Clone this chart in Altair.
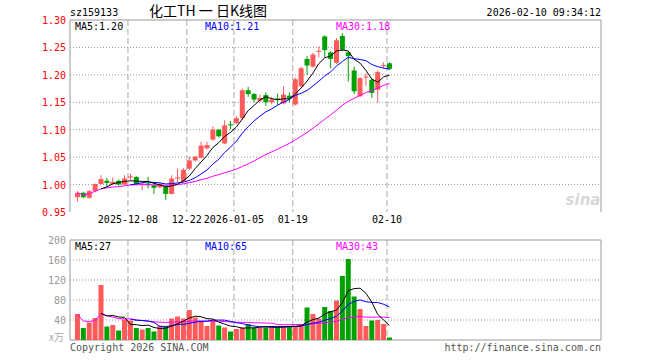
import altair as alt
import pandas as pd

# ---- data (index 0 = 2025-11-25 ... 53 = 2026-02-10)
opens  = [0.977, 0.985, 0.976, 0.988, 1.001, 1.007, 1.001, 1.007, 1.000, 1.013,
          1.014, 1.000, 1.002, 0.999, 0.995, 0.996, 0.983, 1.011, 1.006, 1.029,
          1.044, 1.049, 1.066, 1.082, 1.100, 1.075, 1.110, 1.112, 1.121, 1.172,
          1.165, 1.153, 1.163, 1.150, 1.157, 1.148, 1.162, 1.146, 1.179, 1.229,
          1.215, 1.242, 1.270, 1.241, 1.222, 1.271, 1.241, 1.208, 1.161, 1.195,
          1.191, 1.173, 1.216, 1.221]
closes = [0.985, 0.977, 0.988, 1.001, 1.010, 1.003, 1.005, 1.000, 1.011, 1.015,
          1.001, 1.002, 0.999, 0.994, 1.001, 0.983, 1.011, 1.013, 1.027, 1.044,
          1.051, 1.071, 1.072, 1.100, 1.088, 1.108, 1.108, 1.121, 1.172, 1.165,
          1.155, 1.158, 1.150, 1.155, 1.155, 1.164, 1.158, 1.192, 1.212, 1.217,
          1.237, 1.244, 1.245, 1.229, 1.263, 1.246, 1.234, 1.170, 1.194, 1.197,
          1.167, 1.205, 1.218, 1.211]
highs  = [0.988, 0.987, 0.990, 1.002, 1.017, 1.012, 1.013, 1.009, 1.017, 1.020,
          1.015, 1.003, 1.014, 1.000, 1.004, 0.997, 1.017, 1.029, 1.030, 1.051,
          1.052, 1.078, 1.078, 1.106, 1.101, 1.117, 1.116, 1.125, 1.175, 1.178,
          1.167, 1.164, 1.168, 1.160, 1.166, 1.179, 1.168, 1.195, 1.215, 1.234,
          1.240, 1.252, 1.272, 1.243, 1.267, 1.276, 1.242, 1.215, 1.196, 1.203,
          1.193, 1.208, 1.223, 1.223]
lows   = [0.969, 0.975, 0.974, 0.986, 1.000, 0.996, 0.999, 0.998, 0.998, 1.008,
          0.999, 0.990, 0.993, 0.983, 0.993, 0.972, 0.982, 1.005, 1.004, 1.027,
          1.042, 1.048, 1.064, 1.080, 1.086, 1.074, 1.101, 1.110, 1.118, 1.160,
          1.150, 1.150, 1.144, 1.146, 1.145, 1.146, 1.150, 1.144, 1.177, 1.200,
          1.213, 1.232, 1.232, 1.212, 1.220, 1.243, 1.188, 1.165, 1.160, 1.180,
          1.158, 1.150, 1.212, 1.209]
vols   = [52, 24, 35, 44, 110, 27, 30, 19, 41, 39,
          24, 21, 24, 17, 29, 27, 43, 47, 43, 60,
          45, 37, 28, 40, 29, 25, 17, 22, 25, 32,
          25, 25, 25, 28, 28, 28, 27, 27, 32, 65,
          52, 43, 66, 58, 79, 128, 162, 87, 62, 28,
          39, 40, 32, 5]

date_idx    = [9, 19, 27, 37, 53]
date_labels = ["2025-12-08", "12-22", "2026-01-05", "01-19", "02-10"]
price_ticks = [1.30, 1.25, 1.20, 1.15, 1.10, 1.05, 1.00, 0.95]
price_grid  = [1.25, 1.20, 1.15, 1.10, 1.05, 1.00]
vol_ticks   = [200, 160, 120, 80, 40]
vol_grid    = [160, 120, 80, 40]
price_legend = ["MA5:1.20", "MA10:1.21", "MA30:1.18"]
vol_legend   = ["MA5:27", "MA10:65", "MA30:43"]

RED, GREEN = "#ff5a5a", "#00a000"
MA_COLORS = ["#000000", "#0000ff", "#ff00ff"]
FONT = "DejaVu Sans Mono"
FS = 10
W, H = 531, 320
PH = 192           # price panel height
VT, VB = 220, 320  # volume panel top / bottom

df = pd.DataFrame({"i": list(range(len(opens))), "open": opens, "close": closes,
                   "high": highs, "low": lows, "vol": vols})
one = pd.DataFrame({"a": [0]})
dates = pd.DataFrame({"i": date_idx, "lab": date_labels})

x0 = -2.5 / 6
xs = alt.Scale(domain=[x0, x0 + W / 6], nice=False, zero=False)
py = alt.Scale(domain=[0.95, 1.30], range=[PH, 0], nice=False, zero=False)
vy = alt.Scale(domain=[0, 200], range=[VB, VT], nice=False, zero=False)

X = alt.X("i:Q", scale=xs, axis=None)
updown = alt.condition("datum.close >= datum.open", alt.value(RED), alt.value(GREEN))

layers = []

# grids
layers.append(alt.Chart(pd.DataFrame({"v": price_grid})).mark_rule(
    color="#999999", strokeDash=[1, 2], strokeWidth=1).encode(
    y=alt.Y("v:Q", scale=py, axis=None), x=alt.value(0), x2=alt.value(W)))
layers.append(alt.Chart(pd.DataFrame({"v": vol_grid})).mark_rule(
    color="#999999", strokeDash=[1, 2], strokeWidth=1).encode(
    y=alt.Y("v:Q", scale=vy, axis=None), x=alt.value(0), x2=alt.value(W)))
gx = alt.X("gx:Q", scale=xs, axis=None)
layers.append(alt.Chart(dates).transform_calculate(gx="datum.i - 0.42").mark_rule(
    color="#aaaaaa", strokeDash=[6, 3], strokeWidth=1).encode(
    x=gx, y=alt.value(0), y2=alt.value(PH)))
layers.append(alt.Chart(dates).transform_calculate(gx="datum.i - 0.42").mark_rule(
    color="#aaaaaa", strokeDash=[6, 3], strokeWidth=1).encode(
    x=gx, y=alt.value(VT), y2=alt.value(VB)))

# frames
frame = alt.Chart(one)
layers.append(frame.mark_rule(color="#999999").encode(x=alt.value(0), x2=alt.value(W), y=alt.value(0)))
layers.append(frame.mark_rule(color="#999999").encode(x=alt.value(0), y=alt.value(0), y2=alt.value(PH)))
layers.append(frame.mark_rule(color="#999999").encode(x=alt.value(W), y=alt.value(0), y2=alt.value(PH)))
layers.append(frame.mark_rect(fillOpacity=0, stroke="#999999", strokeWidth=1).encode(
    x=alt.value(0), x2=alt.value(W), y=alt.value(VT), y2=alt.value(VB)))

base = alt.Chart(df)
# candles
layers.append(base.mark_rule(strokeWidth=1).encode(
    x=X, y=alt.Y("high:Q", scale=py, axis=None), y2="low:Q", color=updown))
layers.append(base.mark_bar(size=5).encode(
    x=X, y=alt.Y("open:Q", scale=py, axis=None), y2="close:Q", color=updown))
# volume bars
layers.append(base.mark_bar(size=5).encode(
    x=X, y=alt.Y("vol:Q", scale=vy, axis=None), y2=alt.value(VB), color=updown))


def ma_line(field, n, color, yscale, full):
    ch = base.transform_window(m=f"mean({field})", c=f"count({field})",
                               frame=[-(n - 1), 0], sort=[alt.SortField("i")])
    if full:
        ch = ch.transform_filter(f"datum.c >= {n}")
    return ch.mark_line(color=color, strokeWidth=1).encode(
        x=X, y=alt.Y("m:Q", scale=yscale, axis=None))


for n, col, full in [(30, MA_COLORS[2], False), (10, MA_COLORS[1], True), (5, MA_COLORS[0], True)]:
    layers.append(ma_line("close", n, col, py, full))
    layers.append(ma_line("vol", n, col, vy, full))

# axis labels
layers.append(alt.Chart(pd.DataFrame({"v": price_ticks})).mark_text(
    align="right", baseline="middle", font=FONT, fontSize=FS, color="#ff0000", dy=1).encode(
    y=alt.Y("v:Q", scale=py, axis=None), x=alt.value(-4), text=alt.Text("v:Q", format=".2f")))
layers.append(alt.Chart(pd.DataFrame({"v": vol_ticks})).mark_text(
    align="right", baseline="middle", font=FONT, fontSize=FS, color="#999999", dy=1).encode(
    y=alt.Y("v:Q", scale=vy, axis=None), x=alt.value(-4), text=alt.Text("v:Q")))
layers.append(alt.Chart(dates).transform_calculate(gx="datum.i - 0.42").mark_text(
    align="center", baseline="middle", font=FONT, fontSize=FS, color="#000000").encode(
    x=gx, y=alt.value(200), text="lab:N"))

# legends
for k, (lab, col) in enumerate(zip(price_legend, MA_COLORS)):
    layers.append(frame.mark_text(align="left", baseline="middle", font=FONT, fontSize=FS,
                                  color=col, text=lab).encode(
        x=alt.value([5, 135, 266][k]), y=alt.value(7)))
for k, (lab, col) in enumerate(zip(vol_legend, MA_COLORS)):
    layers.append(frame.mark_text(align="left", baseline="middle", font=FONT, fontSize=FS,
                                  color=col, text=lab).encode(
        x=alt.value([5, 135, 266][k]), y=alt.value(VT + 7)))

# header / footer texts
layers.append(frame.mark_text(align="left", baseline="middle", font=FONT, fontSize=FS,
                              color="#000000", text="sz159133").encode(x=alt.value(0), y=alt.value(-7)))
layers.append(frame.mark_text(align="center", baseline="middle", font="Noto Sans CJK SC", fontSize=14,
                              color="#000000", text="化工TH 一 日K线图").encode(x=alt.value(138), y=alt.value(-8)))
layers.append(frame.mark_text(align="right", baseline="middle", font=FONT, fontSize=FS,
                              color="#000000", text="2026-02-10 09:34:12").encode(x=alt.value(W), y=alt.value(-7)))
layers.append(frame.mark_text(align="left", baseline="middle", font=FONT, fontSize=FS,
                              color="#555555", text="Copyright 2026 SINA.COM").encode(x=alt.value(0), y=alt.value(VB + 8)))
layers.append(frame.mark_text(align="right", baseline="middle", font=FONT, fontSize=FS,
                              color="#555555", text="http://finance.sina.com.cn").encode(x=alt.value(W), y=alt.value(VB + 8)))
layers.append(frame.mark_text(align="right", baseline="middle", font="Noto Sans CJK SC", fontSize=10,
                              color="#aaaaaa", text="x万").encode(x=alt.value(-6), y=alt.value(VB - 2)))
layers.append(frame.mark_text(align="center", baseline="middle", font="DejaVu Sans", fontSize=15,
                              fontStyle="italic", fontWeight="bold", color="#d8d8d8", text="sina").encode(
    x=alt.value(513), y=alt.value(180)))

chart = alt.layer(*layers).resolve_scale(y="independent").properties(
    width=W, height=H,
    autosize=alt.AutoSizeParams(type="none"),
    padding={"left": 70, "top": 20, "right": 59, "bottom": 20},
    background="white",
).configure_view(stroke=None)

chart.save("out.html", embed_options={"renderer": "svg", "actions": False})
